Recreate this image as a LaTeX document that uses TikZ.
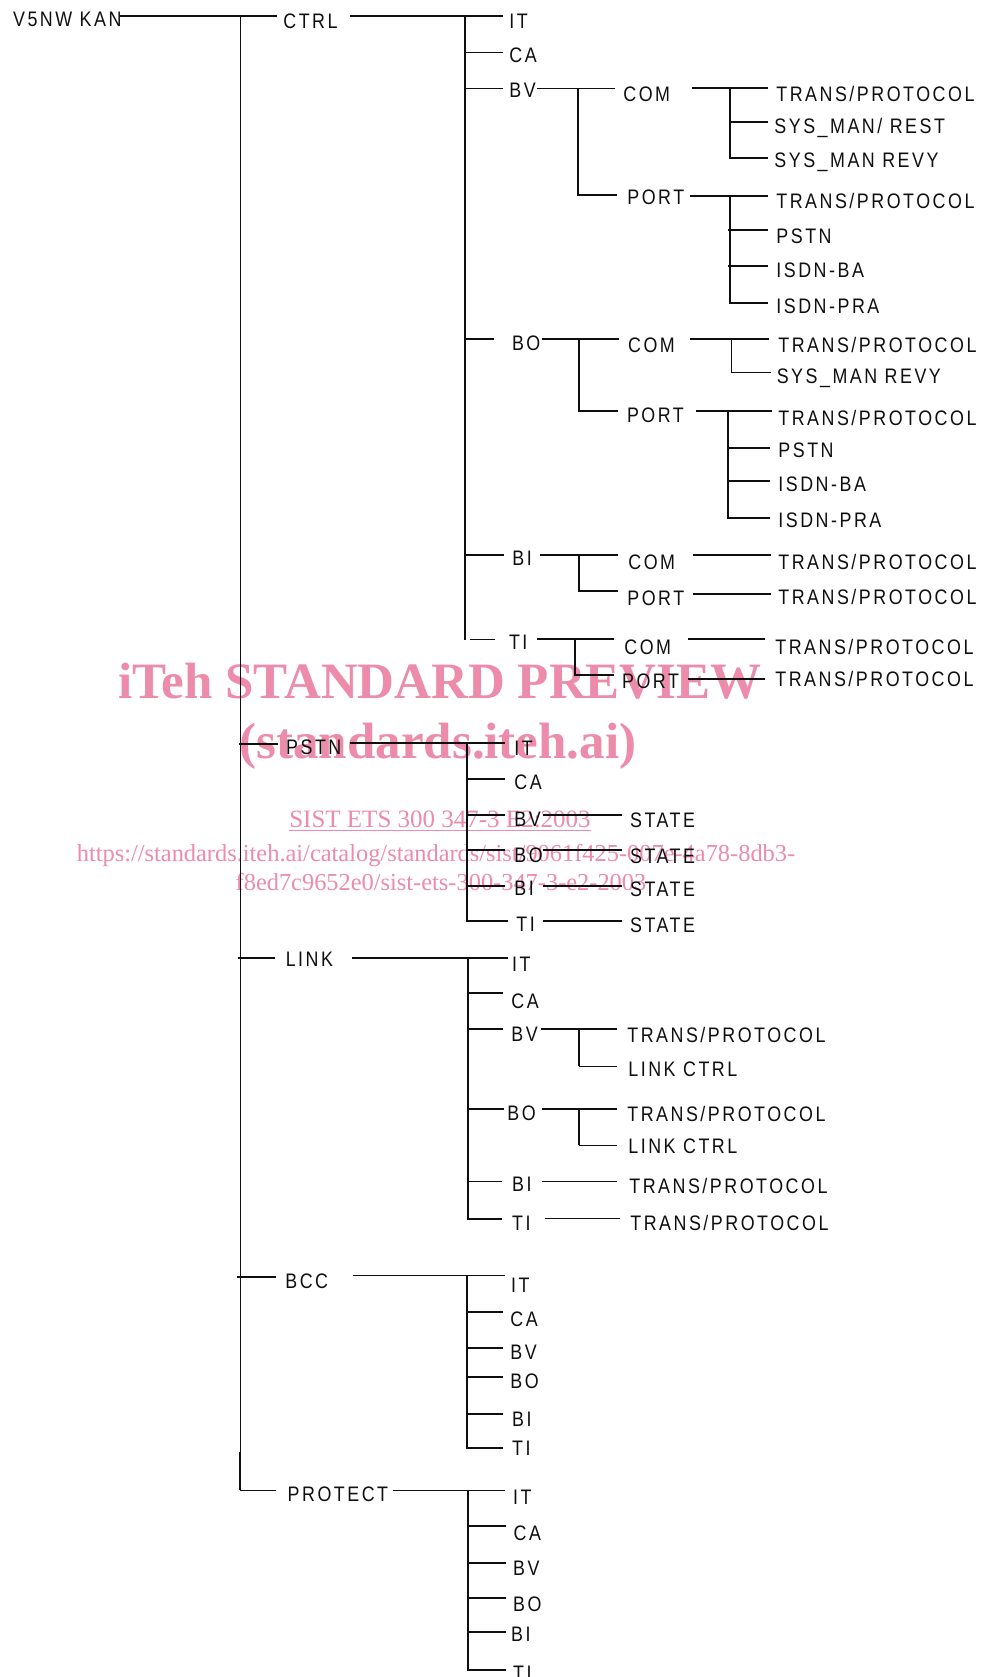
\documentclass[tikz,border=0pt]{standalone}
\usepackage{fontspec}
\newfontfamily\lblfam[FakeStretch=0.85,LetterSpace=12]{Liberation Sans}
\newfontfamily\wmfam{Liberation Serif}
\newcommand\lblfont{\lblfam\fontsize{10.5pt}{12pt}\selectfont}
\definecolor{wmpink}{RGB}{236,139,170}
\definecolor{ink}{RGB}{15,15,15}
\tikzset{
  lbl/.style={anchor=base west, inner sep=0pt, font=\lblfont, text=ink},
  thk/.style={line width=1pt, draw=ink},
  thn/.style={line width=0.5pt, draw=ink},
  wmbig/.style={anchor=base, inner sep=0pt, text=wmpink, font=\wmfam\bfseries\fontsize{25.5pt}{30pt}\selectfont},
  wmsmall/.style={anchor=base, inner sep=0pt, text=wmpink, font=\wmfam\fontsize{12.5pt}{15pt}\selectfont},
  wmurl/.style={anchor=base, inner sep=0pt, text=wmpink, font=\wmfam\fontsize{12.2pt}{15pt}\selectfont},
}
\begin{document}
\begin{tikzpicture}[x=0.5pt,y=-0.5pt]
\useasboundingbox (0,0) rectangle (984,1677);
\fill[white] (0,0) rectangle (984,1677);

% ---------- watermark (beneath) ----------
\node[wmbig] (wm1) at (440,698) {iTeh STANDARD PREVIEW};
\node[wmbig] (wm2) at (438,758) {(standards.iteh.ai)};
\node[wmsmall] (wm3) at (440,827) {SIST ETS 300 347-3 E2:2003};
\draw[wmpink, line width=0.6pt] ([yshift=-1.75pt]wm3.base west) -- ([yshift=-1.75pt]wm3.base east);
\node[wmurl] (wm4) at (436,861.7) {https://standards.iteh.ai/catalog/standards/sist/9061f425-007e-4a78-8db3-};
\node[wmurl] (wm5) at (441,890) {f8ed7c9652e0/sist-ets-300-347-3-e2-2003};

% ---------- top level ----------
\node[lbl] (v5) at (12.7,26) {V5NW KAN};
\node[lbl] (ctrl) at (283,28) {CTRL};
\node[lbl] (pstn) at (285.8,754) {PSTN};
\node[lbl] (link) at (285.4,966) {LINK};
\node[lbl] (bcc) at (285,1288) {BCC};
\node[lbl] (prot) at (287.3,1501) {PROTECT};

\draw[thk] (120,16) -- (277,16);
\draw[thn] (240,16) -- (240,1452);
\draw[thk] (240,1452) -- (240,1490);
\draw[thn] (240,1490) -- (276,1490);
\draw[thk] (238.5,744) -- (277.6,744);
\draw[thk] (237.5,957.7) -- (275,957.7);
\draw[thk] (237,1276.7) -- (276,1276.7);

% ---------- CTRL ----------
\node[lbl] (c-it) at (509,28) {IT};
\node[lbl] (c-ca) at (509,62) {CA};
\node[lbl] (c-bv) at (509,97) {BV};
\node[lbl] (c-bo) at (511.6,350) {BO};
\node[lbl] (c-bi) at (512,565) {BI};
\node[lbl] (c-ti) at (508.6,649) {TI};
\draw[thk] (350,16) -- (503,16);
\draw[thk] (465,16) -- (465,640);
\draw[thn] (465,52) -- (503,52);
\draw[thn] (465,88) -- (503,88);
\draw[thk] (465,339) -- (494,339);
\draw[thk] (465,555) -- (504,555);
\draw[thn] (470,639) -- (495,639);

% CTRL / BV
\node[lbl] (bv-com) at (623,101) {COM};
\node[lbl] (bv-port) at (627,204) {PORT};
\node[lbl] (bvc-1) at (776,101) {TRANS/PROTOCOL};
\node[lbl] (bvc-2) at (774,133) {SYS\_MAN/ REST};
\node[lbl] (bvc-3) at (774,167) {SYS\_MAN REVY};
\node[lbl] (bvp-1) at (776,208) {TRANS/PROTOCOL};
\node[lbl] (bvp-2) at (776,243) {PSTN};
\node[lbl] (bvp-3) at (776,277) {ISDN-BA};
\node[lbl] (bvp-4) at (776,313) {ISDN-PRA};
\draw[thn] (537,88) -- (615,88);
\draw[thk] (578,88) -- (578,195) -- (617,195);
\draw[thk] (692,88) -- (768,88);
\draw[thk] (730,88) -- (730,158) -- (768,158);
\draw[thk] (730,122) -- (768,122);
\draw[thk] (690,196) -- (768,196);
\draw[thk] (730,196) -- (730,303) -- (768,303);
\draw[thk] (728,230) -- (768,230);
\draw[thk] (728,266) -- (768,266);

% CTRL / BO
\node[lbl] (bo-com) at (627.7,352) {COM};
\node[lbl] (bo-port) at (626.6,422) {PORT};
\node[lbl] (boc-1) at (778,352) {TRANS/PROTOCOL};
\node[lbl] (boc-2) at (776.4,383) {SYS\_MAN REVY};
\node[lbl] (bop-1) at (778,425) {TRANS/PROTOCOL};
\node[lbl] (bop-2) at (778,457) {PSTN};
\node[lbl] (bop-3) at (778,491) {ISDN-BA};
\node[lbl] (bop-4) at (778,527) {ISDN-PRA};
\draw[thk] (541.6,339) -- (619,339);
\draw[thk] (579,339) -- (579,410.7) -- (618,410.7);
\draw[thk] (690,339) -- (769,339);
\draw[thn] (731.5,339) -- (731.5,372) -- (771,372);
\draw[thk] (696,410.7) -- (772,410.7);
\draw[thk] (727.7,410.7) -- (727.7,517.5) -- (770,517.5);
\draw[thk] (727.7,447.7) -- (770,447.7);
\draw[thk] (727.7,481) -- (770,481);

% CTRL / BI
\node[lbl] (bi-com) at (628,569) {COM};
\node[lbl] (bi-port) at (627,605) {PORT};
\node[lbl] (bic-1) at (778,569) {TRANS/PROTOCOL};
\node[lbl] (bip-1) at (778,604) {TRANS/PROTOCOL};
\draw[thk] (540,555) -- (618,555);
\draw[thk] (579,555) -- (579,591) -- (618,591);
\draw[thk] (693,555) -- (771,555);
\draw[thk] (693,594) -- (771,594);

% CTRL / TI
\node[lbl] (ti-com) at (624,654) {COM};
\node[lbl] (ti-port) at (621.7,688) {PORT};
\node[lbl] (tic-1) at (775,654) {TRANS/PROTOCOL};
\node[lbl] (tip-1) at (775,686) {TRANS/PROTOCOL};
\draw[thk] (536.7,639) -- (613.5,639);
\draw[thk] (575,639) -- (575,675) -- (613.5,675);
\draw[thk] (687.6,639) -- (765,639);
\draw[thk] (688,679) -- (765,679);

% ---------- PSTN ----------
\node[lbl] (p-it) at (514,755) {IT};
\node[lbl] (p-ca) at (514,789) {CA};
\node[lbl] (p-bv) at (514,826) {BV};
\node[lbl] (p-bo) at (514,862) {BO};
\node[lbl] (p-bi) at (514,895) {BI};
\node[lbl] (p-ti) at (516,931) {TI};
\node[lbl] (p-s1) at (629.7,827) {STATE};
\node[lbl] (p-s2) at (629.7,863) {STATE};
\node[lbl] (p-s3) at (629.7,896) {STATE};
\node[lbl] (p-s4) at (629.7,932) {STATE};
\draw[thk] (350,743.3) -- (505,743.3);
\draw[thk] (467,743.3) -- (467,921) -- (508,921);
\draw[thk] (467,779) -- (505,779);
\draw[thk] (467,815) -- (505,815);
\draw[thk] (467,850) -- (505,850);
\draw[thk] (467,886) -- (505,886);
\draw[thk] (542.6,815) -- (621.5,815);
\draw[thk] (542.6,850) -- (621.5,850);
\draw[thk] (542.6,886) -- (621.5,886);
\draw[thk] (542.6,921) -- (621.5,921);

% ---------- LINK ----------
\node[lbl] (l-it) at (511.7,971) {IT};
\node[lbl] (l-ca) at (511,1008) {CA};
\node[lbl] (l-bv) at (511,1041) {BV};
\node[lbl] (l-bo) at (507,1120) {BO};
\node[lbl] (l-bi) at (511.7,1191) {BI};
\node[lbl] (l-ti) at (511.7,1230) {TI};
\node[lbl] (lbv-1) at (627,1042) {TRANS/PROTOCOL};
\node[lbl] (lbv-2) at (628,1076) {LINK CTRL};
\node[lbl] (lbo-1) at (627,1121) {TRANS/PROTOCOL};
\node[lbl] (lbo-2) at (628,1153) {LINK CTRL};
\node[lbl] (lbi-1) at (629,1193) {TRANS/PROTOCOL};
\node[lbl] (lti-1) at (630,1230) {TRANS/PROTOCOL};
\draw[thk] (352,957.7) -- (508,957.7);
\draw[thk] (467.5,957.7) -- (467.5,1218.7) -- (502,1218.7);
\draw[thk] (467.5,993.3) -- (503,993.3);
\draw[thk] (467.5,1029.3) -- (503,1029.3);
\draw[thk] (467.5,1109) -- (504,1109);
\draw[thn] (467.5,1181) -- (502,1181);
\draw[thk] (540.8,1029.3) -- (616.7,1029.3);
\draw[thk] (579,1029.3) -- (579,1066);
\draw[thn] (579,1066) -- (616.7,1066);
\draw[thk] (541.7,1109) -- (616.7,1109);
\draw[thk] (579,1109) -- (579,1145);
\draw[thn] (579,1145) -- (616.7,1145);
\draw[thn] (541.7,1181) -- (616.7,1181);
\draw[thn] (545,1218.7) -- (620,1218.7);

% ---------- BCC ----------
\node[lbl] (b-it) at (510.7,1292) {IT};
\node[lbl] (b-ca) at (510,1326) {CA};
\node[lbl] (b-bv) at (510,1359) {BV};
\node[lbl] (b-bo) at (510,1388) {BO};
\node[lbl] (b-bi) at (511.7,1426) {BI};
\node[lbl] (b-ti) at (511.7,1455) {TI};
\draw[thn] (352.7,1275.7) -- (505,1275.7);
\draw[thk] (466.7,1275.7) -- (466.7,1448.3) -- (503,1448.3);
\draw[thk] (466.7,1311.7) -- (503,1311.7);
\draw[thk] (466.7,1348.3) -- (503,1348.3);
\draw[thk] (466.7,1377.3) -- (503,1377.3);
\draw[thk] (466.7,1414.3) -- (503,1414.3);

% ---------- PROTECT ----------
\node[lbl] (r-it) at (512.7,1504) {IT};
\node[lbl] (r-ca) at (513.3,1540) {CA};
\node[lbl] (r-bv) at (512.7,1575) {BV};
\node[lbl] (r-bo) at (512.7,1611) {BO};
\node[lbl] (r-bi) at (510.7,1641) {BI};
\node[lbl] (r-ti) at (512.7,1680) {TI};
\draw[thn] (393.3,1490) -- (505,1490);
\draw[thk] (468.3,1490) -- (468.3,1670) -- (505.7,1670);
\draw[thk] (468.3,1525.7) -- (505.7,1525.7);
\draw[thk] (468.3,1562.7) -- (505.7,1562.7);
\draw[thk] (468.3,1597.7) -- (505.7,1597.7);
\draw[thk] (468.3,1632.3) -- (505.7,1632.3);
\end{tikzpicture}
\end{document}
